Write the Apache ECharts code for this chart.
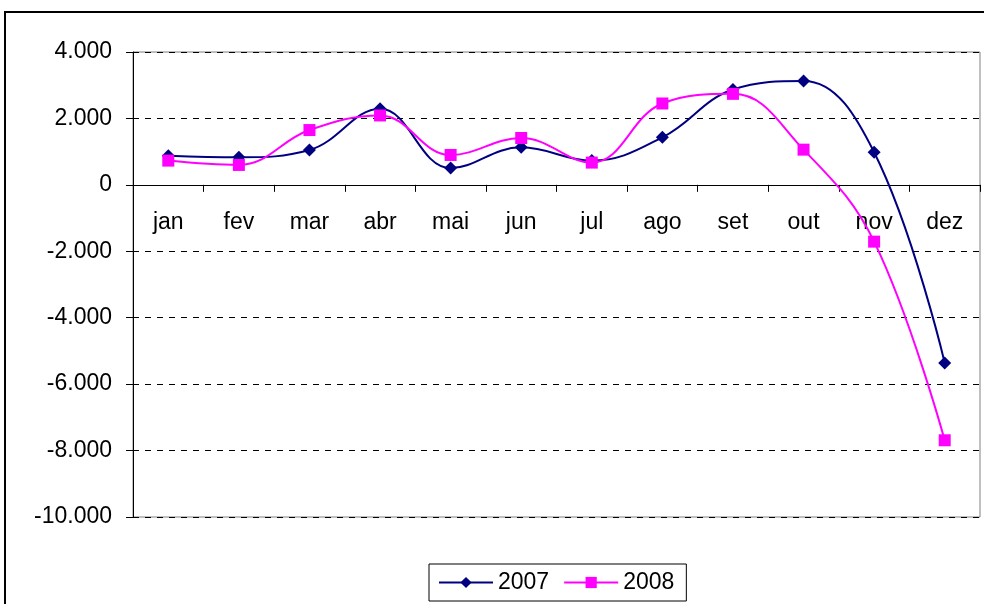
<!DOCTYPE html>
<html>
<head>
<meta charset="utf-8">
<script src="https://cdn.jsdelivr.net/npm/echarts@6/dist/echarts.min.js"></script>
<style>
    html, body { margin: 0; padding: 0; background: #fff; }
    #chart { width: 984px; height: 604px; }
</style>
</head>
<body>
<div id="chart"></div>
<script>
const months = ['jan', 'fev', 'mar', 'abr', 'mai', 'jun', 'jul', 'ago', 'set', 'out', 'nov', 'dez'];
const values2007 = [880, 830, 1050, 2290, 505, 1130, 730, 1430, 2870, 3130, 980, -5360];
const values2008 = [730, 600, 1650, 2090, 900, 1410, 670, 2450, 2740, 1060, -1710, -7690];

function formatThousands(v) {
    const neg = v < 0;
    let s = String(Math.abs(v));
    s = s.replace(/\B(?=(\d{3})+(?!\d))/g, '.');
    return (neg ? '-' : '') + s;
}

const chart = echarts.init(document.getElementById('chart'));

// plot runs from y=52 (4.000) to y=517 (-10.000); the category axis sits on zero
const plotTop = 52, plotBottom = 517;
const zeroY = plotTop + (plotBottom - plotTop) * 4000 / 14000;

const option = {
    animation: false,
    textStyle: { fontFamily: 'Liberation Sans, Arial, sans-serif', color: '#000' },
    graphic: [{
        type: 'rect',
        shape: { x: 5, y: 12, width: 1000, height: 620 },
        style: { fill: null, stroke: '#000', lineWidth: 2 },
        silent: true
    }],
    grid: {
        left: 133,
        top: plotTop,
        right: 4,
        bottom: 604 - plotBottom,
        show: true,
        borderColor: '#808080',
        borderWidth: 1,
        backgroundColor: '#fff'
    },
    legend: {
        bottom: 3,
        left: 429,
        data: ['2007', '2008'],
        itemWidth: 54,
        itemHeight: 14,
        itemGap: 14,
        padding: [7, 12, 7, 9],
        borderColor: '#000',
        borderWidth: 1,
        textStyle: { fontSize: 23, color: '#000' }
    },
    xAxis: {
        type: 'category',
        data: months,
        boundaryGap: true,
        offset: -(plotBottom - zeroY),
        axisLine: { onZero: false, lineStyle: { color: '#000', width: 1 } },
        axisTick: { show: true, length: 7, lineStyle: { color: '#000' } },
        axisLabel: { fontSize: 23, color: '#000', margin: 26 },
        splitLine: { show: false }
    },
    yAxis: {
        type: 'value',
        min: -10000,
        max: 4000,
        interval: 2000,
        axisLine: { show: true, lineStyle: { color: '#000', width: 1 } },
        axisTick: { show: true, length: 7, lineStyle: { color: '#000' } },
        axisLabel: { fontSize: 23, color: '#000', margin: 21, formatter: formatThousands },
        splitLine: { show: true, lineStyle: { color: '#000', type: [6, 6], width: 1 } }
    },
    series: [
        {
            name: '2007',
            type: 'line',
            data: values2007,
            smooth: 0.4,
            symbol: 'diamond',
            symbolSize: 13,
            itemStyle: { color: '#000080' },
            lineStyle: { color: '#000080', width: 2 },
            z: 3
        },
        {
            name: '2008',
            type: 'line',
            data: values2008,
            smooth: 0.4,
            symbol: 'rect',
            symbolSize: 12,
            itemStyle: { color: '#ff00ff' },
            lineStyle: { color: '#ff00ff', width: 2 },
            z: 4
        }
    ]
};

chart.setOption(option);
</script>
</body>
</html>
